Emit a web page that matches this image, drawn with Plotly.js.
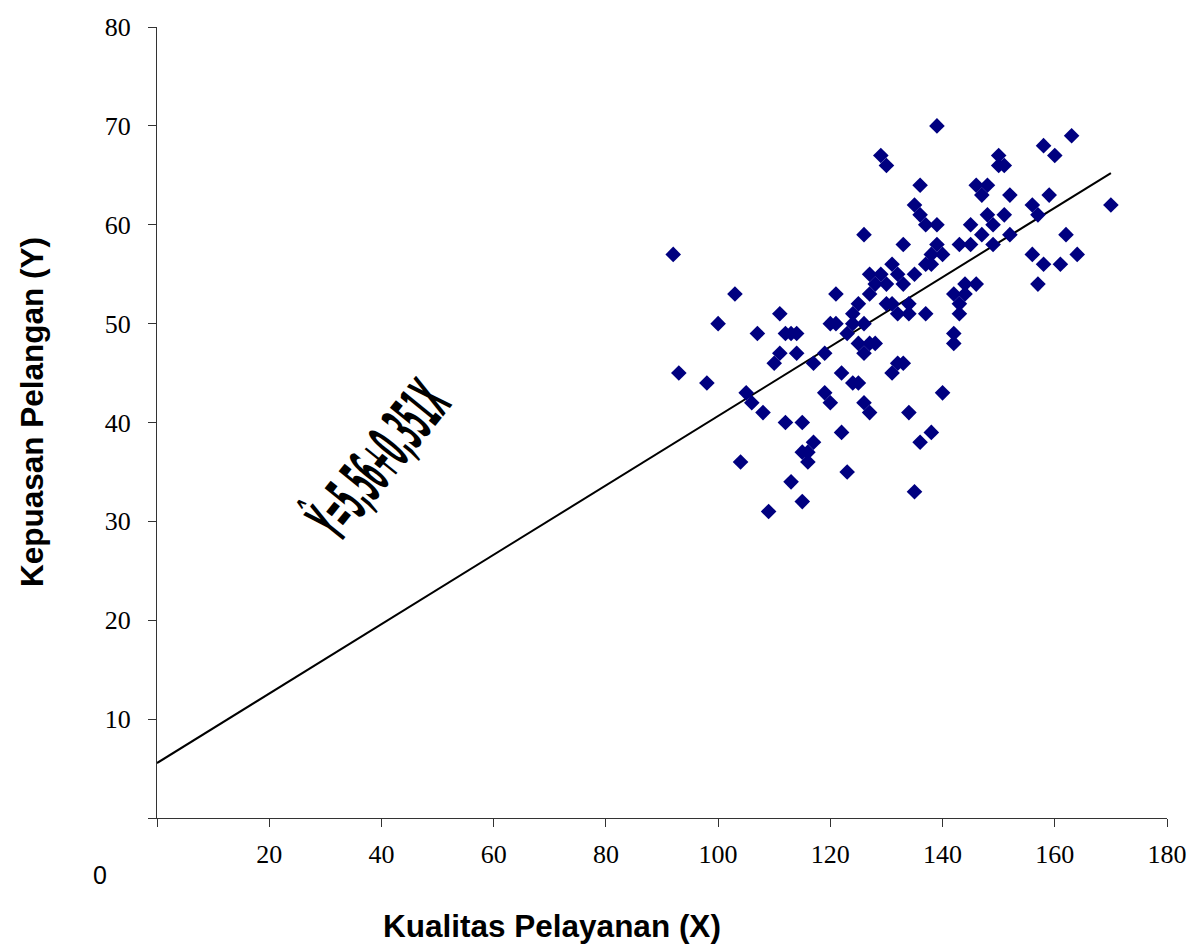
<!DOCTYPE html>
<html><head><meta charset="utf-8">
<script src="https://cdn.plot.ly/plotly-3.0.1.min.js"></script>
<style>html,body{margin:0;padding:0;background:#fff}#chart{width:1196px;height:948px}</style>
</head><body><div id="chart"></div>
<script>
const kualitasX = [92,93,98,100,103,104,105,106,107,108,109,110,111,111,112,113,114,112,113,114,115,115,115,116,116,117,117,119,119,120,120,121,121,122,122,123,123,124,124,124,125,125,125,126,126,126,126,127,127,127,127,128,128,129,130,129,130,130,131,131,131,132,132,132,133,133,133,134,134,134,135,135,135,136,136,136,137,137,137,138,138,138,139,139,139,140,140,142,142,142,143,143,143,144,144,145,145,146,146,147,147,148,148,149,149,150,150,151,151,152,152,156,156,157,157,158,158,159,160,161,162,163,164,170];
const kepuasanY = [57,45,44,50,53,36,43,42,49,41,31,46,47,51,49,49,49,40,34,47,40,32,37,37,36,38,46,47,43,42,50,53,50,45,39,35,49,50,51,44,52,48,44,59,50,47,42,41,48,55,53,54,48,67,66,55,52,54,52,56,45,55,51,46,58,54,46,52,51,41,33,55,62,64,61,38,60,56,51,57,56,39,70,58,60,57,43,53,49,48,58,52,51,53,54,58,60,64,54,63,59,64,61,60,58,67,66,66,61,63,59,62,57,61,54,68,56,63,67,56,59,69,57,62];
const intercept = 5.56;
const slope = 0.351;
const lineX = [0, 170];
const lineY = lineX.map(v => intercept + slope * v);
const xTickVals = [0,20,40,60,80,100,120,140,160,180];
const xTickText = ['','20','40','60','80','100','120','140','160','180'];
const yTickVals = [0,10,20,30,40,50,60,70,80];
const yTickText = ['','10','20','30','40','50','60','70','80'];
const xTitle = 'Kualitas Pelayanan (X)';
const yTitle = 'Kepuasan Pelangan (Y)';
const eqText = 'Ŷ=5,56+0,351X';

const serif = '"Liberation Serif", "Times New Roman", serif';
const sans = '"Liberation Sans", Arial, sans-serif';

const traces = [
  {x: lineX, y: lineY, type: 'scatter', mode: 'lines', line: {color: '#000', width: 2}, hoverinfo: 'skip'},
  {x: kualitasX, y: kepuasanY, type: 'scatter', mode: 'markers',
   marker: {symbol: 'diamond', size: 12, color: '#000080', line: {width: 0}}}
];

const axisCommon = {
  showgrid: false, zeroline: false, showline: true, linecolor: '#333', linewidth: 1,
  ticks: 'outside', ticklen: 8, tickcolor: '#333', tickwidth: 1,
  tickfont: {family: serif, size: 26, color: '#000'}, fixedrange: true
};

const layout = {
  width: 1196, height: 948,
  margin: {l: 157, r: 29, t: 27, b: 130},
  paper_bgcolor: '#fff', plot_bgcolor: '#fff',
  showlegend: false,
  xaxis: Object.assign({}, axisCommon, {range: [0, 180], tickmode: 'array', tickvals: xTickVals, ticktext: xTickText, ticklabelstandoff: 5}),
  yaxis: Object.assign({}, axisCommon, {range: [0, 80], tickmode: 'array', tickvals: yTickVals, ticktext: yTickText, ticklabelstandoff: 12}),
  annotations: [
    {xref: 'paper', yref: 'paper', x: (552-157)/1010, y: -(926-818)/791, text: '<b>' + xTitle + '</b>', showarrow: false,
     font: {family: sans, size: 31.5, color: '#000'}, xanchor: 'center', yanchor: 'middle'},
    {xref: 'paper', yref: 'paper', x: -(157-32)/1010, y: (818-412)/791, text: '<b>' + yTitle + '</b>', showarrow: false,
     textangle: -90, font: {family: sans, size: 31.5, color: '#000'}, xanchor: 'center', yanchor: 'middle'},
    {xref: 'paper', yref: 'paper', x: -(157-100)/1010, y: -(875-818)/791, text: '0', showarrow: false,
     font: {family: sans, size: 25, color: '#000'}, xanchor: 'center', yanchor: 'middle'},
    {xref: 'x', yref: 'y', x: 39.4, y: 36.2, text: '<b>' + eqText + '</b>', showarrow: false,
     textangle: -51, font: {family: '"DejaVu Sans", sans-serif', size: 64, color: '#000'}, xanchor: 'center', yanchor: 'middle'}
  ]
};

Plotly.newPlot('chart', traces, layout, {displayModeBar: false, staticPlot: true}).then(() => {
  const texts = document.querySelectorAll('text.annotation-text');
  texts.forEach(t => {
    if (t.textContent.indexOf('351') >= 0) {
      const bb = t.getBBox();
      const cx = bb.x + bb.width / 2, cy = bb.y + bb.height / 2;
      const sx = 180 / bb.width;
      t.setAttribute('transform', `translate(${cx},${cy}) scale(${sx},1) translate(${-cx},${-cy})`);
    }
  });
});
</script>
</body></html>
